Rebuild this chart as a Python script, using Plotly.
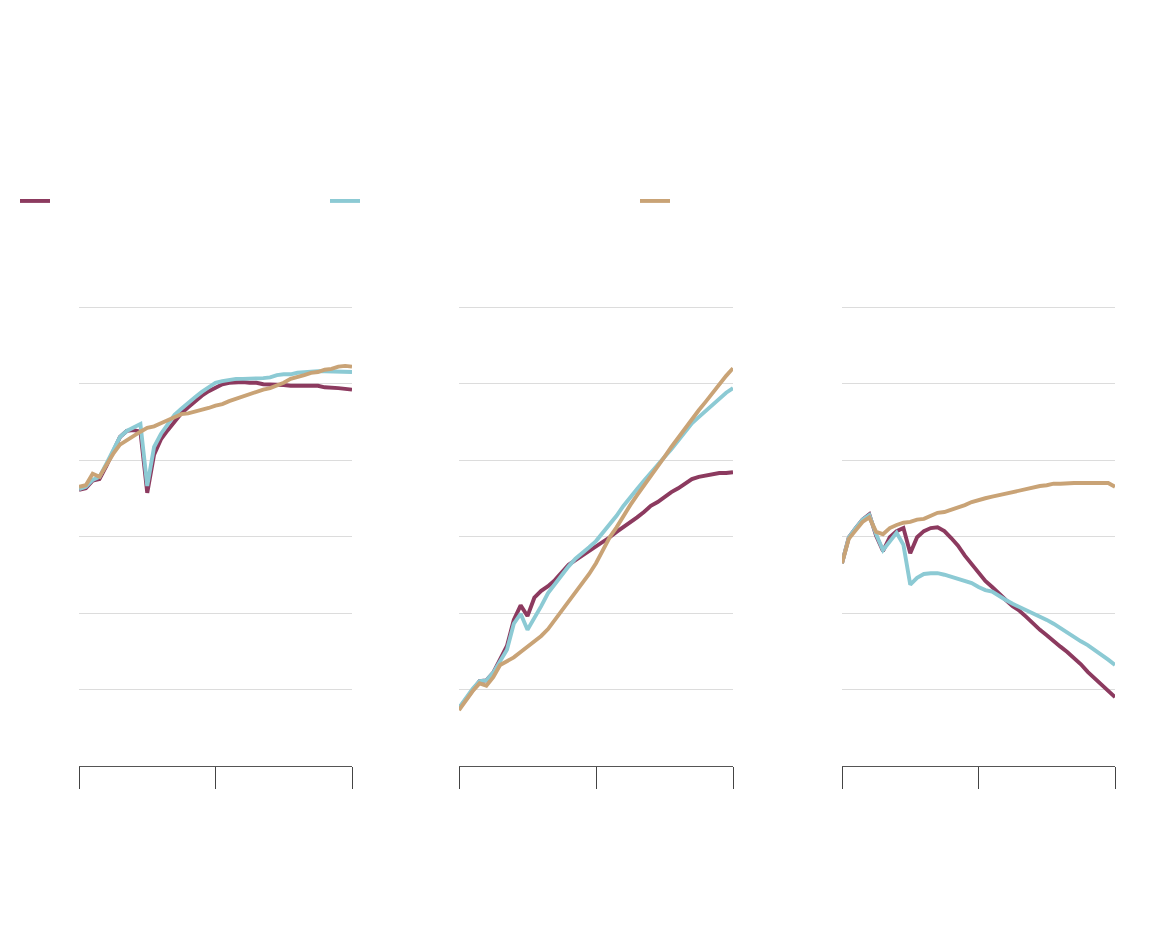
import plotly.graph_objects as go

years = list(range(1980, 2021))
x_ticks = [1980, 2000, 2020]
y_grid = [1, 2, 3, 4, 5, 6]

series_names = ["", "", ""]
colors = ["#8c3a5f", "#8ccad4", "#c9a376"]

# Panel 1
p1_red = [3.61,3.63,3.73,3.75,3.92,4.10,4.30,4.38,4.39,4.37,3.57,4.07,4.27,4.39,4.51,4.61,4.69,4.77,4.84,4.90,
          4.95,4.99,5.01,5.02,5.02,5.01,5.01,4.99,4.99,4.98,4.98,4.97,4.97,4.97,4.97,4.97,4.95,4.95,4.94,4.93,4.92]
p1_teal = [3.62,3.65,3.74,3.78,3.95,4.13,4.30,4.38,4.43,4.47,3.66,4.17,4.34,4.47,4.59,4.67,4.75,4.82,4.89,4.95,
           5.01,5.03,5.05,5.06,5.06,5.06,5.06,5.07,5.08,5.11,5.12,5.12,5.14,5.15,5.15,5.16,5.16,5.16,5.15,5.15,5.15]
p1_tan = [3.65,3.67,3.82,3.78,3.93,4.08,4.20,4.26,4.31,4.37,4.42,4.44,4.48,4.52,4.56,4.60,4.61,4.63,4.65,4.68,
          4.71,4.73,4.77,4.80,4.84,4.86,4.89,4.92,4.94,4.97,5.01,5.06,5.08,5.11,5.14,5.15,5.18,5.19,5.22,5.23,5.22]

# Panel 2
p2_red = [0.75,0.88,0.99,1.11,1.12,1.22,1.39,1.57,1.91,2.10,1.96,2.20,2.29,2.35,2.43,2.54,2.63,2.69,2.75,2.80,
          2.86,2.93,2.99,3.06,3.12,3.19,3.25,3.32,3.40,3.45,3.52,3.58,3.63,3.69,3.75,3.78,3.80,3.82,3.83,3.83,3.84]
p2_teal = [0.76,0.89,1.01,1.11,1.12,1.22,1.36,1.52,1.86,1.99,1.78,1.93,2.09,2.26,2.38,2.50,2.61,2.71,2.78,2.86,
           2.94,3.05,3.16,3.27,3.40,3.52,3.62,3.73,3.84,3.95,4.04,4.14,4.26,4.38,4.48,4.56,4.64,4.72,4.80,4.88,4.94]
p2_tan = [0.73,0.86,0.98,1.08,1.05,1.16,1.32,1.37,1.42,1.49,1.56,1.63,1.70,1.79,1.91,2.03,2.16,2.26,2.38,2.51,
          2.65,2.82,2.99,3.12,3.27,3.41,3.54,3.66,3.78,3.91,4.04,4.17,4.29,4.42,4.55,4.65,4.76,4.88,4.98,5.10,5.20]

# Panel 3
p3_red = [2.65,2.99,3.11,3.22,3.29,3.01,2.81,2.99,3.07,3.11,2.78,2.99,3.07,3.11,3.12,3.07,2.98,2.88,2.75,2.64,
          2.52,2.42,2.34,2.25,2.17,2.09,2.03,1.95,1.86,1.78,1.71,1.63,1.56,1.49,1.41,1.33,1.23,1.15,1.07,0.99,0.90]
p3_teal = [2.65,2.99,3.11,3.22,3.28,3.03,2.82,2.94,3.05,2.89,2.37,2.46,2.51,2.52,2.52,2.50,2.47,2.44,2.42,2.39,
           2.34,2.30,2.28,2.22,2.17,2.12,2.08,2.03,1.99,1.95,1.91,1.86,1.80,1.74,1.69,1.63,1.58,1.52,1.45,1.39,1.32]
p3_tan = [2.65,2.97,3.08,3.19,3.25,3.06,3.03,3.11,3.15,3.18,3.19,3.22,3.23,3.27,3.31,3.32,3.35,3.37,3.41,3.45,
          3.48,3.50,3.52,3.54,3.57,3.59,3.61,3.63,3.65,3.66,3.67,3.69,3.69,3.70,3.70,3.70,3.70,3.71,3.71,3.70,3.65]

panels = [(p1_red, p1_teal, p1_tan), (p2_red, p2_teal, p2_tan), (p3_red, p3_teal, p3_tan)]

W, H = 1160, 938
OFF = 8  # page body margin
x_doms = [(79 - OFF, 352 - OFF), (459 - OFF, 733 - OFF), (842 - OFF, 1115 - OFF)]
y_bot = 766 - OFF
y_max = 6.02
px_per_unit = (766 - 307) / 6.0
y_top = y_bot - y_max * px_per_unit

fig = go.Figure()
for p, series in enumerate(panels):
    xa = "x" if p == 0 else f"x{p+1}"
    ya = "y" if p == 0 else f"y{p+1}"
    for s, vals in enumerate(series):
        fig.add_trace(go.Scatter(
            x=years, y=vals, mode="lines", name=series_names[s],
            line=dict(color=colors[s], width=3.9),
            xaxis=xa, yaxis=ya, showlegend=(p == 0), hoverinfo="skip",
        ))

layout = dict(
    width=W, height=H, margin=dict(l=0, r=0, t=0, b=0),
    paper_bgcolor="white", plot_bgcolor="white",
    font=dict(family="Roboto", size=13, color="#333"),
    legend=dict(orientation="h", x=7 / W, xanchor="left", y=(H - (201 - OFF)) / H, yanchor="middle",
                entrywidth=265, entrywidthmode="pixels", font=dict(size=13),
                bgcolor="rgba(0,0,0,0)"),
)
for p, (x0, x1) in enumerate(x_doms):
    sfx = "" if p == 0 else str(p + 1)
    layout[f"xaxis{sfx}"] = dict(
        domain=[x0 / W, x1 / W], range=[1980, 2020], tickvals=x_ticks, showticklabels=False,
        ticks="outside", ticklen=22, tickwidth=1, tickcolor="#444",
        showline=True, linecolor="#555", linewidth=1, showgrid=False, zeroline=False,
        anchor="y" if p == 0 else f"y{p+1}",
    )
    layout[f"yaxis{sfx}"] = dict(
        domain=[(H - y_bot) / H, (H - y_top) / H], range=[0, y_max], tickvals=y_grid,
        showticklabels=False, ticks="", showgrid=True, gridcolor="#dcdcdc", gridwidth=1,
        zeroline=False, showline=False,
        anchor="x" if p == 0 else f"x{p+1}",
    )
fig.update_layout(**layout)

fig.write_html("out.html")
